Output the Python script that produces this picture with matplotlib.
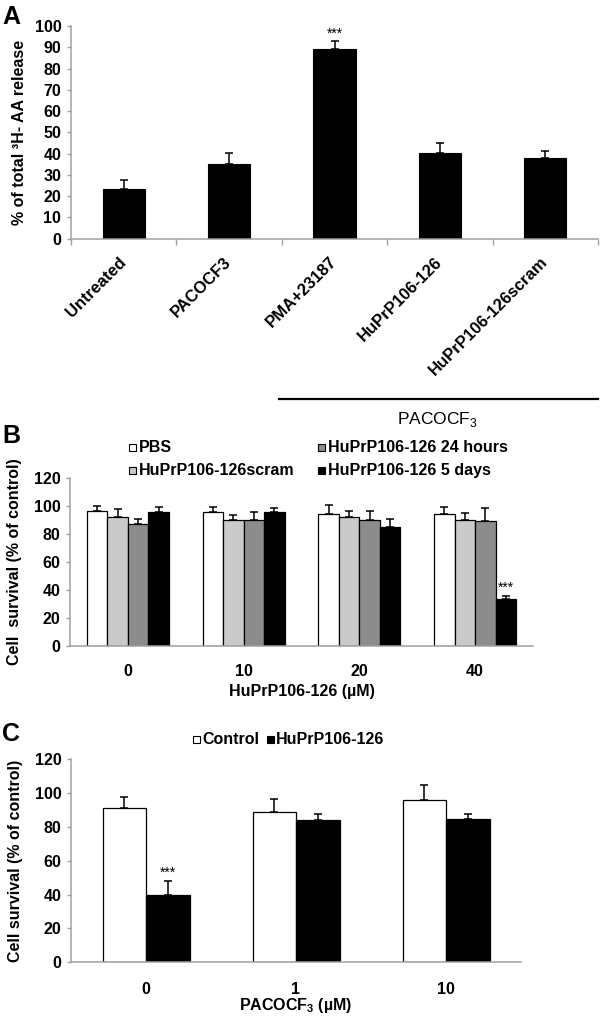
import matplotlib
matplotlib.use("Agg")
import matplotlib.pyplot as plt
import numpy as np
from matplotlib.patches import Rectangle
from matplotlib.lines import Line2D
import matplotlib.transforms as mtransforms

plt.rcParams['font.family'] = ['Liberation Sans', 'DejaVu Sans']
plt.rcParams['mathtext.fontset'] = 'custom'
plt.rcParams['mathtext.rm'] = 'Liberation Sans'
plt.rcParams['mathtext.bf'] = 'Liberation Sans:bold'

# ---------------- data ----------------
a_categories = ["Untreated", "PACOCF3", "PMA+23187", "HuPrP106-126", "HuPrP106-126scram"]
a_values = [23.2, 35.2, 89.2, 40.3, 38.1]
a_errors = [4.4, 4.9, 3.6, 4.7, 3.2]

b_groups = ["0", "10", "20", "40"]
b_series = ["PBS", "HuPrP106-126scram", "HuPrP106-126 24 hours", "HuPrP106-126 5 days"]
b_pbs = [96.1, 95.2, 94.0, 94.0]
b_pbs_err = [3.9, 3.6, 6.2, 5.3]
b_scram = [92.0, 90.1, 92.0, 90.1]
b_scram_err = [5.8, 3.4, 4.4, 4.4]
b_24h = [87.0, 90.1, 90.1, 89.2]
b_24h_err = [3.8, 5.1, 6.3, 8.9]
b_5d = [95.2, 95.2, 85.0, 33.4]
b_5d_err = [4.1, 3.1, 5.4, 2.1]
b_colors = ["#FFFFFF", "#CACACA", "#8C8C8C", "#000000"]

c_groups = ["0", "1", "10"]
c_series = ["Control", "HuPrP106-126"]
c_control = [91.0, 88.7, 95.8]
c_control_err = [7.0, 7.7, 8.9]
c_hu = [39.8, 84.1, 84.6]
c_hu_err = [8.1, 3.6, 3.0]
c_colors = ["#FFFFFF", "#000000"]

# ---------------- figure ----------------
W, H = 600, 1021
fig = plt.figure(figsize=(W / 100, H / 100), dpi=100)

def px_axes(left, top, right, bottom):
    return fig.add_axes([left / W, 1 - bottom / H, (right - left) / W, (bottom - top) / H])

def fx(x):
    return x / W

def fy(y):
    return 1 - y / H

SPINE = "#A0A0A0"
FS = 11.5

def style_axes(ax):
    for s in ["top", "right"]:
        ax.spines[s].set_visible(False)
    for s in ["left", "bottom"]:
        ax.spines[s].set_color(SPINE)
        ax.spines[s].set_linewidth(1.1)
    ax.tick_params(axis="y", direction="out", length=3, color=SPINE, width=1,
                   labelsize=FS, pad=4)

ekw = dict(ecolor="black", elinewidth=1.1, capsize=3, capthick=1.1)

# ---------------- Panel A ----------------
axA = px_axes(71, 26, 598, 238.7)
xa = np.arange(len(a_categories))
axA.bar(xa, a_values, width=0.4, color="black", edgecolor="black", linewidth=0.8,
        yerr=[np.zeros(len(a_errors)), a_errors], error_kw=ekw, zorder=2)
axA.set_xlim(-0.5, len(a_categories) - 0.5)
axA.set_ylim(0, 100)
axA.set_yticks(np.arange(0, 101, 10))
style_axes(axA)
axA.set_yticklabels([str(v) for v in range(0, 101, 10)], fontweight="bold", fontsize=FS)
axA.set_xticks(xa)
axA.set_xticklabels(a_categories, rotation=45, ha="right", va="center",
                    rotation_mode="anchor", fontweight="bold", fontsize=12)
axA.tick_params(axis="x", which="major", length=0, pad=15)
axA.set_xticks(np.arange(-0.5, len(a_categories), 1.0), minor=True)
axA.tick_params(axis="x", which="minor", length=4, color=SPINE, width=1, direction="out")
axA.set_ylabel("% of total \u00b3H- AA release", fontweight="bold", fontsize=FS)
axA.yaxis.set_label_coords(-0.097, 0.5)
axA.yaxis.label.set_va("center")
axA.text(2, 93.0, "***", ha="center", va="bottom", fontsize=10)

# bracket line + label below A
trA = mtransforms.blended_transform_factory(axA.transData, fig.transFigure)
fig.add_artist(Line2D([1.47, 4.5], [fy(398.6), fy(398.6)], transform=trA,
                      color="black", linewidth=1.6))
fig.text(2.98, fy(419), "PACOCF$_3$", transform=trA, ha="center", va="center", fontsize=12.5)
fig.text(fx(2), fy(17), "A", fontsize=18, fontweight="bold", va="center", ha="left")

# ---------------- Panel B ----------------
axB = px_axes(70, 477.7, 533, 645.7)
xb = np.arange(len(b_groups))
bw = 0.177
b_vals = [b_pbs, b_scram, b_24h, b_5d]
b_errs = [b_pbs_err, b_scram_err, b_24h_err, b_5d_err]
for i, (vals, errs, col) in enumerate(zip(b_vals, b_errs, b_colors)):
    axB.bar(xb + (i - 1.5) * bw, vals, width=bw, color=col, edgecolor="black", linewidth=0.9,
            yerr=[np.zeros(len(errs)), errs], error_kw=ekw, zorder=2)
axB.set_xlim(-0.5, len(b_groups) - 0.5)
axB.set_ylim(0, 120)
axB.set_yticks(np.arange(0, 121, 20))
style_axes(axB)
axB.set_yticklabels([str(v) for v in range(0, 121, 20)], fontweight="bold", fontsize=FS)
axB.set_xticks(xb)
axB.set_xticklabels(b_groups, fontweight="bold", fontsize=FS)
axB.tick_params(axis="x", length=0, pad=13)
axB.set_xlabel("HuPrP106-126 (\u00b5M)", fontweight="bold", fontsize=FS)
axB.xaxis.set_label_coords(0.5, -0.27)
axB.xaxis.label.set_va("center")
axB.set_ylabel("Cell  survival (% of control)", fontweight="bold", fontsize=FS)
axB.yaxis.set_label_coords(-0.119, 0.5)
axB.yaxis.label.set_va("center")
axB.text(3 + 1.5 * bw, 36.5, "***", ha="center", va="bottom", fontsize=10)
fig.text(fx(2), fy(436), "B", fontsize=18, fontweight="bold", va="center", ha="left")

# legend B (manual)
sq = 7
leg_pos = [(129, 447), (129, 470), (318, 447), (318, 470)]
for (lx, ly), name, col in zip(leg_pos, b_series, b_colors):
    fig.add_artist(Rectangle((fx(lx), fy(ly + sq / 2)), sq / W, sq / H, transform=fig.transFigure,
                             facecolor=col, edgecolor="black", linewidth=0.8))
    fig.text(fx(lx + sq + 3), fy(ly), name, fontsize=FS, fontweight="bold", va="center", ha="left")

# ---------------- Panel C ----------------
axC = px_axes(71, 759.3, 521, 962.3)
xc = np.arange(len(c_groups))
cw = 0.29
c_vals = [c_control, c_hu]
c_errs = [c_control_err, c_hu_err]
for i, (vals, errs, col) in enumerate(zip(c_vals, c_errs, c_colors)):
    axC.bar(xc + (i - 0.5) * cw, vals, width=cw, color=col, edgecolor="black", linewidth=0.9,
            yerr=[np.zeros(len(errs)), errs], error_kw=ekw, zorder=2)
axC.set_xlim(-0.5, len(c_groups) - 0.5)
axC.set_ylim(0, 120)
axC.set_yticks(np.arange(0, 121, 20))
style_axes(axC)
axC.set_yticklabels([str(v) for v in range(0, 121, 20)], fontweight="bold", fontsize=FS)
axC.set_xticks(xc)
axC.set_xticklabels(c_groups, fontweight="bold", fontsize=FS)
axC.tick_params(axis="x", length=0, pad=14)
axC.set_xlabel("PACOCF$_\\mathbf{3}$ (\u00b5M)", fontweight="bold", fontsize=FS)
axC.xaxis.set_label_coords(0.5, -0.215)
axC.xaxis.label.set_va("center")
axC.set_ylabel("Cell survival (% of control)", fontweight="bold", fontsize=FS)
axC.yaxis.set_label_coords(-0.124, 0.5)
axC.yaxis.label.set_va("center")
axC.text(0.5 * cw, 49, "***", ha="center", va="bottom", fontsize=10)
fig.text(fx(2), fy(734), "C", fontsize=18, fontweight="bold", va="center", ha="left")

# legend C (manual)
leg_c = [(193, 739), (267, 739)]
for (lx, ly), name, col in zip(leg_c, c_series, c_colors):
    fig.add_artist(Rectangle((fx(lx), fy(ly + sq / 2)), sq / W, sq / H, transform=fig.transFigure,
                             facecolor=col, edgecolor="black", linewidth=0.8))
    fig.text(fx(lx + sq + 2), fy(ly), name, fontsize=FS, fontweight="bold", va="center", ha="left")

fig.savefig("out.png", dpi=100, facecolor="white")
